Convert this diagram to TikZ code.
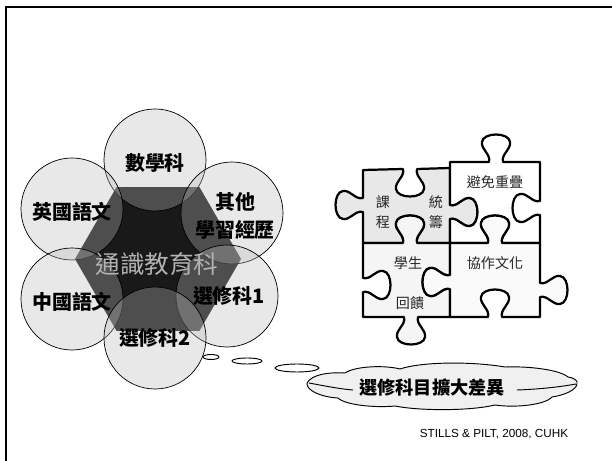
\documentclass[tikz,border=0pt]{standalone}
\usepackage{fontspec}
\newfontfamily\cjk{Noto Sans CJK TC}
\newfontfamily\footfont{Liberation Sans}
\usetikzlibrary{positioning}
\tikzset{
  hknob/.style args={#1/#2/#3/#4}{insert path={
    -- ({#1-(#4)*7},{#2})
    .. controls ({#1-(#4)*5},{#2-(#3)*8}) and ({#1-(#4)*15},{#2-(#3)*12}) .. ({#1-(#4)*14},{#2-(#3)*20})
    .. controls ({#1-(#4)*13},{#2-(#3)*30}) and ({#1+(#4)*13},{#2-(#3)*30}) .. ({#1+(#4)*14},{#2-(#3)*20})
    .. controls ({#1+(#4)*15},{#2-(#3)*12}) and ({#1+(#4)*5},{#2-(#3)*8}) .. ({#1+(#4)*7},{#2})}},
  vknob/.style args={#1/#2/#3/#4}{insert path={
    -- ({#1},{#2-(#4)*7})
    .. controls ({#1+(#3)*8},{#2-(#4)*5}) and ({#1+(#3)*12},{#2-(#4)*15}) .. ({#1+(#3)*20},{#2-(#4)*14})
    .. controls ({#1+(#3)*30},{#2-(#4)*13}) and ({#1+(#3)*30},{#2+(#4)*13}) .. ({#1+(#3)*20},{#2+(#4)*14})
    .. controls ({#1+(#3)*12},{#2+(#4)*15}) and ({#1+(#3)*8},{#2+(#4)*5}) .. ({#1},{#2+(#4)*7})}},
}

\begin{document}
\begin{tikzpicture}[x=0.03cm,y=-0.03cm,
    ring/.style={circle,draw,line width=0.6pt,fill=black!27,fill opacity=0.33,minimum size=3.06cm,inner sep=0pt},
    subj/.style={font=\cjk\bfseries\fontsize{17}{24}\selectfont,align=center},
    piece/.style={draw,line width=1.9pt,line join=round},
    word/.style={font=\cjk\fontsize{12}{14}\selectfont,text=black!85},
    bubble/.style={draw,fill=white,line width=0.8pt}]

  \useasboundingbox (0,0) rectangle (612,461);

  % Frame of the slide
  \draw[line width=2.2pt] (612,7) -- (6,7) -- (6,461);

  % Hexagon in the middle
  \fill[black!90] (158,259) +(0:83) -- +(60:83) -- +(120:83) -- +(180:83) -- +(240:83) -- +(300:83) -- cycle;

  \draw[bubble] (211,357) ellipse [x radius=8, y radius=2.5];

  % Subject circles
  \node[ring] (math) at (155,160) {};
  \node[ring] (eng) at (72,209) {};
  \node[ring] (other) at (232,213) {};
  \node[ring] (chin) at (72,299) {};
  \node[ring] (elecA) at (227,296) {};
  \node[ring] (elecB) at (155,338) {};

  \node[subj] (mathtxt) at (155,163) {數學科};
  \node[subj] (engtxt) at (72,212) {英國語文};
  \node[subj] (othertxt) at (235,216) {其他\\學習經歷};
  \node[subj] (chintxt) at (72,302) {中國語文};
  \node[subj] (elecAtxt) at (229,296) {選修科1};
  \node[subj] (elecBtxt) at (155,338) {選修科2};
  \node[font=\cjk\fontsize{21}{24}\selectfont,text=black!30] (ls) at (157,264) {通識教育科};

  % Thought bubbles and cloud
  \draw[bubble] (247,361) ellipse [x radius=15, y radius=3];
  \draw[bubble] (297,368) ellipse [x radius=22, y radius=4];
  \draw[line width=0.8pt,fill=black!6] (307,383)
    .. controls (312,374) and (330,372) .. (345,373)
    .. controls (355,366) and (385,365) .. (400,369)
    .. controls (420,362) and (470,361) .. (505,367)
    .. controls (530,366) and (560,370) .. (568,377)
    .. controls (575,378) and (578,381) .. (577,384)
    .. controls (576,390) and (565,395) .. (552,397)
    .. controls (545,405) and (515,408) .. (495,405)
    .. controls (470,411) and (420,411) .. (395,406)
    .. controls (375,408) and (345,405) .. (338,398)
    .. controls (320,397) and (306,390) .. (307,383) -- cycle;
  \draw[line width=0.8pt] (309,383) .. controls (325,386) and (340,389) .. (353,390);
  \draw[line width=0.8pt] (517,390) .. controls (545,389) and (565,386) .. (576,384);
  \node[font=\cjk\bfseries\fontsize{15.5}{18}\selectfont] (gap) at (432,388) {選修科目擴大差異};

  % Puzzle pieces
  \draw[piece,fill=black!9] (363,170) [hknob=410/169/-1/1] -- (450,168) [vknob=450/212/1/1]
    -- (450,243) [hknob=410/243/1/-1] -- (363,243) [vknob=363/205/-1/-1] -- cycle;
  \draw[piece,fill=white] (450,162) [hknob=496/162/1/1] -- (540,162) [vknob=540/208/-1/1]
    -- (540,243) [hknob=495/243/1/-1] -- (450,243) [vknob=450/212/1/-1] -- cycle;
  \draw[piece,fill=black!4] (363,243) [hknob=410/243/1/1] -- (450,243) [vknob=450/282/-1/1]
    -- (450,317) [hknob=411/317/-1/-1] -- (363,317) [vknob=363/285/1/-1] -- cycle;
  \draw[piece,fill=black!2] (450,243) [hknob=495/243/1/1] -- (540,243) [vknob=540/290/1/1]
    -- (540,317) [hknob=495/317/1/-1] -- (450,317) [vknob=450/282/-1/-1] -- cycle;

  \node[word] (ke) at (383,202) {課};
  \node[word] (cheng) at (383,222) {程};
  \node[word] (tong) at (436,202) {統};
  \node[word] (chou) at (436,222) {籌};
  \node[word] (avoid) at (495,182) {避免重疊};
  \node[word] (stud) at (408,263) {學生};
  \node[word] (feed) at (410,303) {回饋};
  \node[word] (coop) at (495,263) {協作文化};

  \node[font=\footfont\fontsize{10}{12}\selectfont] (credit) at (494,434) {STILLS \& PILT, 2008, CUHK};
\end{tikzpicture}
\end{document}
